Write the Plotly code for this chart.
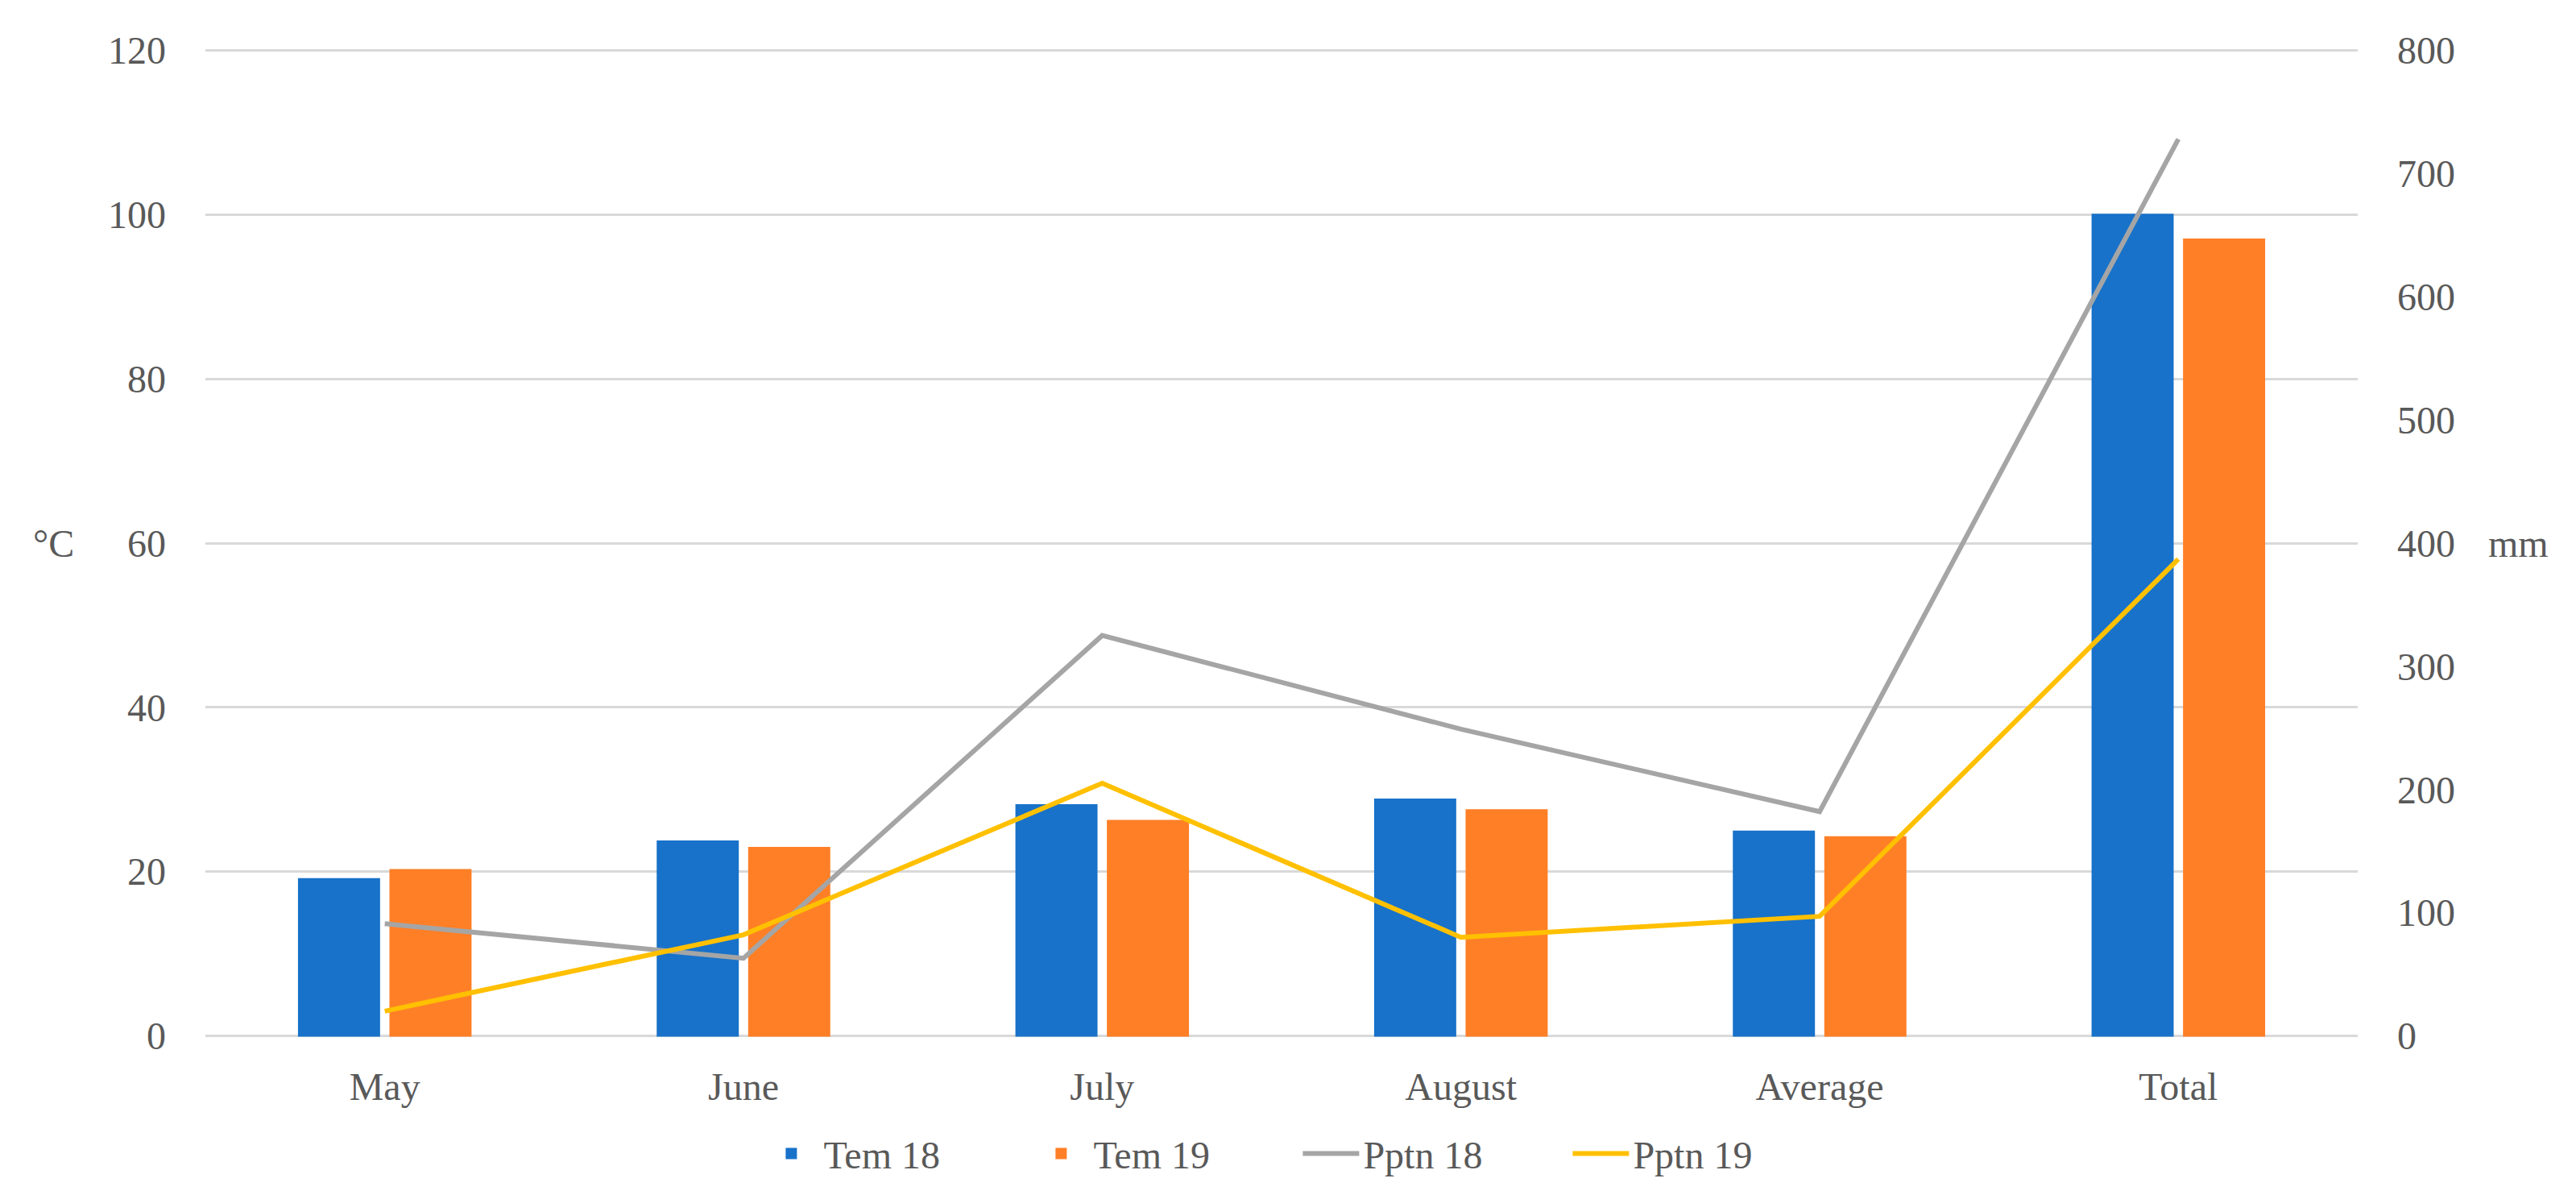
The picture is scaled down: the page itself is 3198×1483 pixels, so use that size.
import plotly.graph_objects as go

categories = ["May", "June", "July", "August", "Average", "Total"]
tem18 = [19.1, 23.7, 28.1, 28.8, 24.9, 100.0]
tem19 = [20.2, 22.9, 26.2, 27.5, 24.2, 97.0]
pptn18 = [91, 63, 325, 249, 182, 728]
pptn19 = [20, 82, 205, 80, 97, 387]

left_ticks = [0, 20, 40, 60, 80, 100, 120]
right_ticks = [0, 100, 200, 300, 400, 500, 600, 700, 800]

FONT = "Liberation Serif"
TXT = "#595959"
FS = 48

fig = go.Figure()
fig.add_trace(go.Bar(x=categories, y=tem18, name="Tem 18", marker_color="#1872C9",
                     marker_line=dict(color="#1872C9", width=2)))
fig.add_trace(go.Bar(x=categories, y=tem19, name="Tem 19", marker_color="#FF7F27",
                     marker_line=dict(color="#FF7F27", width=2)))
fig.add_trace(go.Scatter(x=categories, y=pptn18, name="Pptn 18", mode="lines",
                         line=dict(color="#A5A5A5", width=6), yaxis="y2"))
fig.add_trace(go.Scatter(x=categories, y=pptn19, name="Pptn 19", mode="lines",
                         line=dict(color="#FFC000", width=6), yaxis="y2"))

fig.update_layout(
    width=3198, height=1483,
    margin=dict(l=247, r=279, t=52, b=203),
    paper_bgcolor="white", plot_bgcolor="white",
    font=dict(family=FONT, color=TXT, size=FS),
    barmode="group", bargap=0.49, bargroupgap=0.12,
    showlegend=True,
    legend=dict(orientation="h", x=0.508, xanchor="center", y=-0.117, yanchor="middle",
                font=dict(family=FONT, size=FS, color=TXT), itemwidth=70,
                entrywidth=250, entrywidthmode="pixels", tracegroupgap=0,
                bgcolor="rgba(0,0,0,0)"),
    xaxis=dict(type="category", showgrid=False, showline=False, zeroline=False,
               ticks="", tickfont=dict(family=FONT, size=FS, color=TXT), ticklabelstandoff=28),
    yaxis=dict(range=[-0.25, 120.25], tickvals=left_ticks, showgrid=True, gridcolor="#D9D9D9",
               gridwidth=3, zeroline=False, showline=False, ticks="",
               tickfont=dict(family=FONT, size=FS, color=TXT), ticklabelstandoff=48),
    yaxis2=dict(range=[-800 * 0.25 / 120, 800 + 800 * 0.25 / 120], tickvals=right_ticks,
                overlaying="y", side="right",
                showgrid=False, zeroline=False, showline=False, ticks="",
                tickfont=dict(family=FONT, size=FS, color=TXT), ticklabelstandoff=48),
    annotations=[
        dict(text="\u00b0C", xref="paper", yref="y", x=-0.081, y=60, xanchor="left",
             yanchor="middle", showarrow=False, font=dict(family=FONT, size=FS, color=TXT)),
        dict(text="mm", xref="paper", yref="y", x=1.060, y=60, xanchor="left",
             yanchor="middle", showarrow=False, font=dict(family=FONT, size=FS, color=TXT)),
    ],
)

fig.write_html("out.html")
